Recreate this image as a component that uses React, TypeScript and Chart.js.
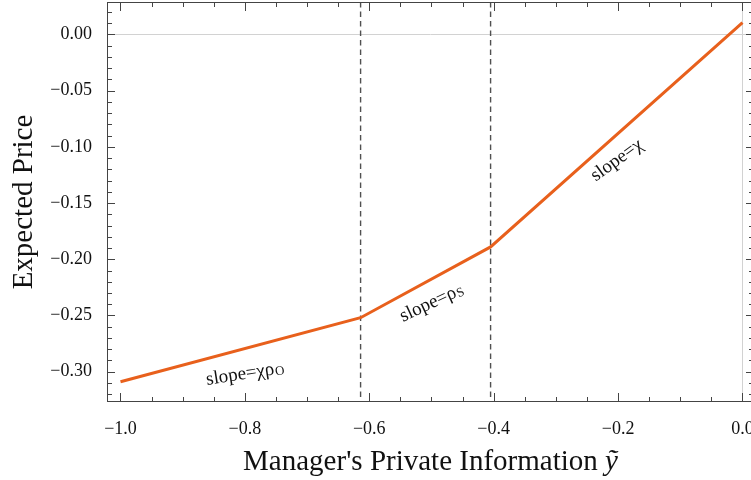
import React, { useEffect, useRef } from "react";
import { Chart, registerables } from "chart.js";

Chart.register(...registerables);

// Piecewise-linear expected price: breakpoints and values
const infoBreaks = [-1.0, -0.614, -0.405, 0.0];
const expectedPrice = [-0.309, -0.252, -0.189, 0.0105];

// Regime boundaries (dashed verticals)
const regimeBounds = [-0.614, -0.405];

// Tick values and labels
const xTickValues = [-1.0, -0.8, -0.6, -0.4, -0.2, 0.0];
const xTickLabels = ["\u22121.0", "\u22120.8", "\u22120.6", "\u22120.4", "\u22120.2", "0.0"];
const yTickValues = [-0.3, -0.25, -0.2, -0.15, -0.1, -0.05, 0.0];
const yTickLabels = ["\u22120.30", "\u22120.25", "\u22120.20", "\u22120.15", "\u22120.10", "\u22120.05", "0.00"];

// Segment annotations
const slopeTexts = ["slope=\u03c7\u03c1", "slope=\u03c1", "slope=\u03c7"];
const slopeSubs = ["O", "S", ""];
const slopeAnchorX = [-0.8, -0.5, -0.202];
const slopeAnchorY = [-0.302, -0.239, -0.112];
const slopeAngles = [-9, -25, -36];

const SERIF = "'Liberation Serif', 'Times New Roman', Times, serif";
const LINE_COLOR = "#e8601c";
const FRAME_COLOR = "#444444";

const App: React.FC = () => {
  const canvasRef = useRef<HTMLCanvasElement | null>(null);

  useEffect(() => {
    const canvas = canvasRef.current;
    if (!canvas) return;

    const decorations = {
      id: "decorations",
      beforeDatasetsDraw(chart: any) {
        const { ctx, chartArea: a, scales } = chart;
        const xs = scales.x;
        const ys = scales.y;
        ctx.save();
        // axes through the origin
        ctx.strokeStyle = "#d2d2d2";
        ctx.lineWidth = 1;
        const y0 = Math.round(ys.getPixelForValue(0)) + 0.5;
        ctx.beginPath();
        ctx.moveTo(a.left, y0);
        ctx.lineTo(a.right, y0);
        ctx.stroke();
        const x0 = Math.round(xs.getPixelForValue(0)) + 0.5;
        ctx.beginPath();
        ctx.moveTo(x0, a.top);
        ctx.lineTo(x0, a.bottom);
        ctx.stroke();
        // regime boundaries
        ctx.strokeStyle = "#505050";
        ctx.lineWidth = 1.4;
        ctx.setLineDash([5.5, 4]);
        regimeBounds.forEach((v) => {
          const px = xs.getPixelForValue(v);
          ctx.beginPath();
          ctx.moveTo(px, a.top);
          ctx.lineTo(px, a.bottom);
          ctx.stroke();
        });
        ctx.restore();
      },
      afterDraw(chart: any) {
        const { ctx, chartArea: a, scales } = chart;
        const xs = scales.x;
        const ys = scales.y;
        ctx.save();

        // frame
        ctx.strokeStyle = FRAME_COLOR;
        ctx.lineWidth = 1;
        ctx.strokeRect(a.left + 0.5, a.top + 0.5, a.right - a.left - 1, a.bottom - a.top - 1);

        // inward tick marks
        ctx.beginPath();
        for (let i = -20; i <= 0; i++) {
          const v = i * 0.05;
          const len = i % 4 === 0 ? 9 : 5;
          const px = Math.round(xs.getPixelForValue(v)) + 0.5;
          ctx.moveTo(px, a.bottom);
          ctx.lineTo(px, a.bottom - len);
          ctx.moveTo(px, a.top);
          ctx.lineTo(px, a.top + len);
        }
        for (let i = -32; i <= 2; i++) {
          const v = i * 0.01;
          const len = i % 5 === 0 ? 8 : 5;
          const py = Math.round(ys.getPixelForValue(v)) + 0.5;
          ctx.moveTo(a.left, py);
          ctx.lineTo(a.left + len, py);
          ctx.moveTo(a.right, py);
          ctx.lineTo(a.right - len, py);
        }
        ctx.stroke();

        // slope annotations
        ctx.fillStyle = "#111111";
        slopeTexts.forEach((t, i) => {
          const px = xs.getPixelForValue(slopeAnchorX[i]);
          const py = ys.getPixelForValue(slopeAnchorY[i]);
          ctx.save();
          ctx.translate(px, py);
          ctx.rotate((slopeAngles[i] * Math.PI) / 180);
          ctx.textBaseline = "middle";
          ctx.textAlign = "left";
          ctx.font = `19px ${SERIF}`;
          const wMain = ctx.measureText(t).width;
          ctx.font = `13px ${SERIF}`;
          const wSub = slopeSubs[i] ? ctx.measureText(slopeSubs[i]).width : 0;
          const start = -(wMain + wSub) / 2;
          ctx.font = `19px ${SERIF}`;
          ctx.fillText(t, start, 0);
          if (slopeSubs[i]) {
            ctx.font = `13px ${SERIF}`;
            ctx.fillText(slopeSubs[i], start + wMain + 0.5, 3);
          }
          ctx.restore();
        });

        // axis titles
        ctx.fillStyle = "#111111";
        ctx.textBaseline = "alphabetic";
        ctx.save();
        ctx.translate(32, (a.top + a.bottom) / 2);
        ctx.rotate(-Math.PI / 2);
        ctx.textAlign = "center";
        ctx.font = `29px ${SERIF}`;
        ctx.fillText("Expected Price", 0, 0);
        ctx.restore();

        const mainTitle = "Manager's Private Information ";
        const symbol = "\u1ef9";
        ctx.font = `29px ${SERIF}`;
        const w1 = ctx.measureText(mainTitle).width;
        ctx.font = `italic 29px ${SERIF}`;
        const w2 = ctx.measureText(symbol).width;
        const cx = (a.left + a.right) / 2;
        const startX = cx - (w1 + w2) / 2;
        ctx.textAlign = "left";
        ctx.font = `29px ${SERIF}`;
        ctx.fillText(mainTitle, startX, 470);
        ctx.font = `italic 29px ${SERIF}`;
        ctx.fillText(symbol, startX + w1, 470);

        ctx.restore();
      },
    };

    const chart = new Chart(canvas, {
      type: "line",
      data: {
        datasets: [
          {
            data: infoBreaks.map((x, i) => ({ x, y: expectedPrice[i] })),
            borderColor: LINE_COLOR,
            borderWidth: 3,
            pointRadius: 0,
            tension: 0,
            fill: false,
          },
        ],
      },
      options: {
        responsive: false,
        animation: false,
        events: [],
        layout: { padding: { left: 0, right: 0, top: 2, bottom: 0 } },
        plugins: {
          legend: { display: false },
          tooltip: { enabled: false },
        },
        scales: {
          x: {
            type: "linear",
            min: -1.0217,
            max: 0.0185,
            grid: { display: false },
            border: { display: false },
            afterBuildTicks: (axis: any) => {
              axis.ticks = xTickValues.map((value) => ({ value }));
            },
            afterFit: (axis: any) => {
              axis.height = 78;
              axis.paddingLeft = 0;
              axis.paddingRight = 0;
              axis.paddingTop = 0;
              axis.paddingBottom = 0;
            },
            ticks: {
              autoSkip: false,
              maxRotation: 0,
              padding: 8,
              color: "#111111",
              font: { family: SERIF, size: 18 },
              callback: (_v: any, index: number) => xTickLabels[index],
            },
          },
          y: {
            type: "linear",
            min: -0.327,
            max: 0.0289,
            grid: { display: false },
            border: { display: false },
            afterBuildTicks: (axis: any) => {
              axis.ticks = yTickValues.map((value) => ({ value }));
            },
            afterFit: (axis: any) => {
              axis.width = 107;
              axis.paddingLeft = 0;
              axis.paddingRight = 0;
              axis.paddingTop = 0;
              axis.paddingBottom = 0;
            },
            ticks: {
              autoSkip: false,
              padding: 7,
              color: "#111111",
              font: { family: SERIF, size: 18 },
              callback: (_v: any, index: number) => yTickLabels[index],
            },
          },
        },
      },
      plugins: [decorations],
    });

    return () => {
      chart.destroy();
    };
  }, []);

  return (
    <div
      style={{
        position: "absolute",
        left: 0,
        top: 0,
        width: 751,
        height: 480,
        overflow: "hidden",
        background: "#ffffff",
      }}
    >
      <canvas ref={canvasRef} width={754} height={480} style={{ display: "block" }} />
    </div>
  );
};

export default App;
